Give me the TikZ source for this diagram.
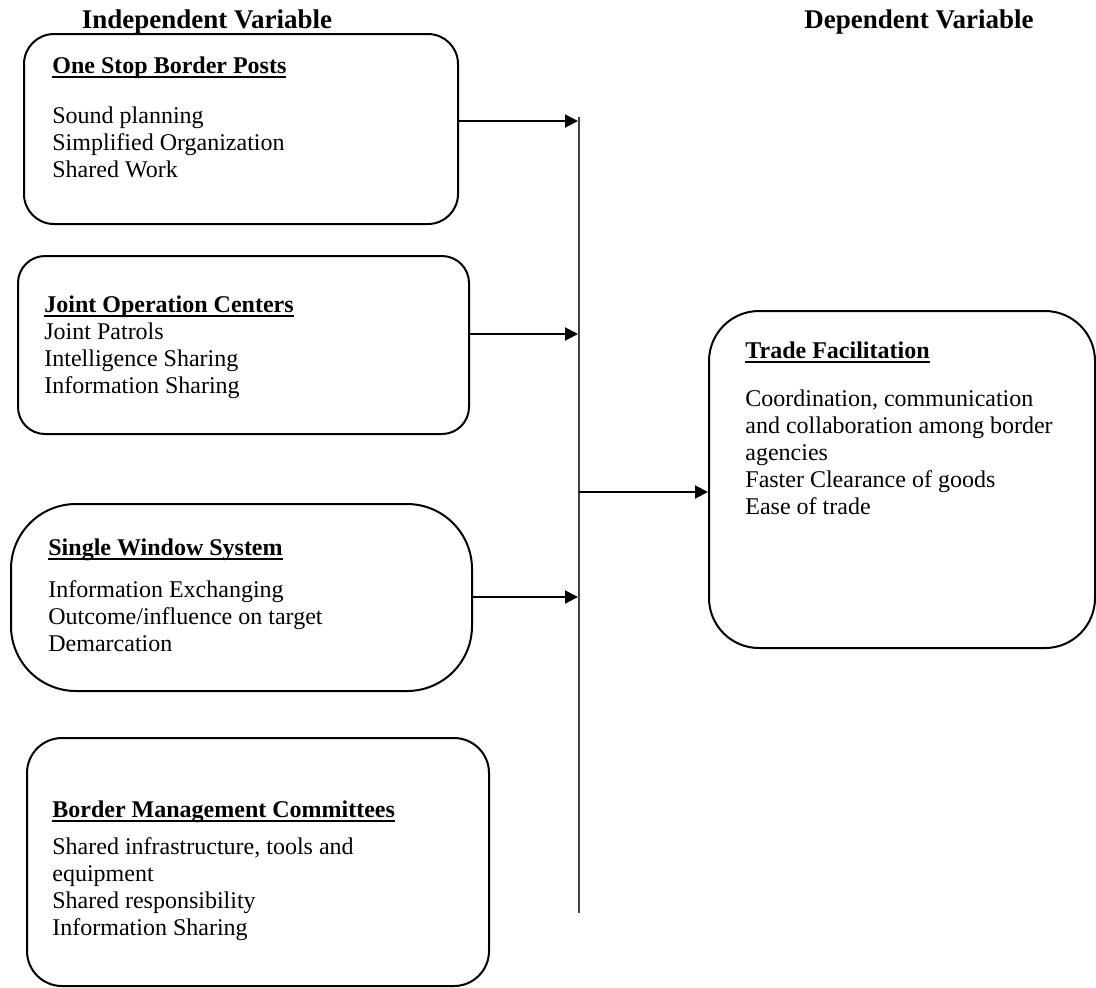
\documentclass[tikz,border=0pt]{standalone}
\usepackage{fontspec}
\setmainfont{Liberation Serif}
\usetikzlibrary{arrows.meta}
\newcommand\myul[1]{\setbox0\hbox{#1}\rlap{\rule[-2.4pt]{\wd0}{0.8pt}}\box0}
\begin{document}
\begin{tikzpicture}[x=0.5pt,y=-0.5pt,
  box/.style={draw, line width=1pt, inner sep=0pt, anchor=north west},
  ttl/.style={anchor=base west, inner sep=0pt, font=\fontsize{12pt}{13.5pt}\selectfont\bfseries},
  txt/.style={anchor=north west, inner sep=0pt, align=left, font=\fontsize{12pt}{13.5pt}\selectfont},
  head/.style={anchor=base, inner sep=0pt, font=\fontsize{13.5pt}{15pt}\selectfont\bfseries},
  arr/.style={line width=1pt, -{Triangle[length=6.5pt,width=6.5pt]}},
  bus/.style={line width=0.6pt, black!75}]
\useasboundingbox (0,0) rectangle (1096,987);

% headings
\node[head] (h1) at (207,28) {Independent Variable};
\node[head] (h2) at (919,28) {Dependent Variable};

% boxes
\node[box, rounded corners=15pt, minimum width=217pt, minimum height=95pt] (b1) at (23,33) {};
\node[box, rounded corners=13.5pt, minimum width=225.5pt, minimum height=89pt] (b2) at (17,255) {};
\node[box, rounded corners=32.5pt, minimum width=230.5pt, minimum height=93.5pt] (b3) at (10,503) {};
\node[box, rounded corners=17.5pt, minimum width=231pt, minimum height=124pt] (b4) at (26,737) {};
\node[box, rounded corners=25pt, minimum width=193pt, minimum height=168.5pt] (t) at (708,310) {};

% texts
\node[ttl] (b1t) at (52,73) {\myul{One Stop Border Posts}};
\node[txt] (b1b) at (52,103) {\rule{0pt}{10pt}Sound planning\\Simplified Organization\\Shared Work};

\node[ttl] (b2t) at (44,312) {\myul{Joint Operation Centers}};
\node[txt] (b2b) at (44,319) {\rule{0pt}{10pt}Joint Patrols\\Intelligence Sharing\\Information Sharing};

\node[ttl] (b3t) at (48,555) {\myul{Single Window System}};
\node[txt] (b3b) at (48,577) {\rule{0pt}{10pt}Information Exchanging\\Outcome/influence on target\\Demarcation};

\node[ttl] (b4t) at (52,817) {\myul{Border Management Committees}};
\node[txt] (b4b) at (52,834) {\rule{0pt}{10pt}Shared infrastructure, tools and\\equipment\\Shared responsibility\\Information Sharing};

\node[ttl] (tt) at (745,358) {\myul{Trade Facilitation}};
\node[txt] (tb) at (745,386) {\rule{0pt}{10pt}Coordination, communication\\and collaboration among border\\agencies\\Faster Clearance of goods\\Ease of trade};

% bus and arrows
\coordinate (bustop) at (579,117);
\coordinate (busbot) at (579,913);
\draw[bus] (bustop) -- (busbot);
\coordinate (p1) at (578,121);
\coordinate (p2) at (578,334);
\coordinate (p3) at (578,597);
\coordinate (j) at (579,492);
\draw[arr] (b1.east |- p1) -- (p1);
\draw[arr] (b2.east |- p2) -- (p2);
\draw[arr] (b3.east |- p3) -- (p3);
\draw[arr] (j) -- (j -| t.west);
\end{tikzpicture}
\end{document}
